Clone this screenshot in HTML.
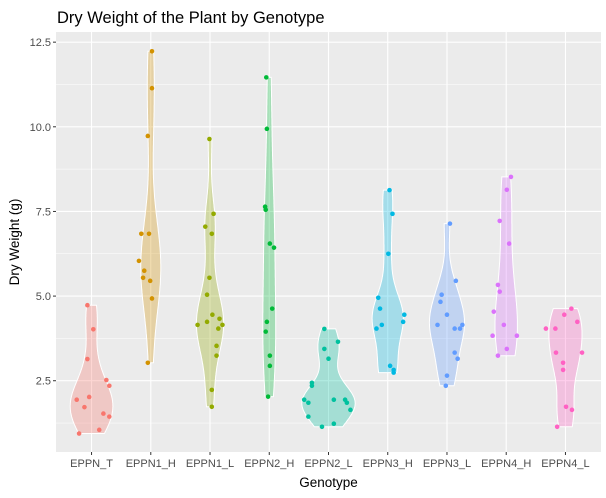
<!DOCTYPE html>
<html><head><meta charset="utf-8"><style>
body{margin:0;background:#fff;font-family:"Liberation Sans",sans-serif}
svg{display:block}
</style></head><body>
<svg id="chart" width="606" height="498" xmlns="http://www.w3.org/2000/svg"></svg>
<script>
const categories=["EPPN_T","EPPN1_H","EPPN1_L","EPPN2_H","EPPN2_L","EPPN3_H","EPPN3_L","EPPN4_H","EPPN4_L"];
const colors=["#F8766D","#D39200","#93AA00","#00BA38","#00C19F","#00B9E3","#619CFF","#DB72FB","#FF61C3"];
const values=[
[4.73,4.02,3.14,2.52,2.35,2.02,1.94,1.72,1.53,1.44,1.05,0.94],
[12.23,11.14,9.73,6.84,6.84,6.04,5.75,5.54,5.45,4.93,3.03],
[9.64,7.43,7.05,6.84,5.54,5.04,4.45,4.33,4.24,4.15,4.15,4.04,3.53,3.24,2.23,1.73],
[11.46,9.94,7.64,7.55,6.55,6.43,4.63,4.24,3.95,3.24,2.94,2.03],
[4.03,3.65,3.44,3.15,2.44,2.35,1.94,1.94,1.94,1.85,1.85,1.64,1.44,1.23,1.14],
[8.13,7.43,6.25,4.95,4.63,4.45,4.24,4.15,4.04,2.94,2.82,2.74],
[7.14,5.45,5.04,4.83,4.45,4.15,4.15,4.04,4.04,3.33,3.15,2.65,2.35],
[8.52,8.14,7.22,6.55,5.33,5.13,4.54,4.15,3.83,3.83,3.44,3.24],
[4.63,4.45,4.24,4.04,4.04,3.33,3.33,3.03,2.82,1.73,1.64,1.14]];
const jitter=[
[-0.07,0.03,-0.07,0.25,0.3,-0.04,-0.25,-0.12,0.2,0.3,0.13,-0.21],
[0.02,0.02,-0.05,-0.16,-0.03,-0.2,-0.11,-0.13,-0.01,0.02,-0.05],
[-0.01,0.06,-0.08,0.03,-0.01,-0.05,0.04,0.16,-0.05,-0.21,0.21,0.14,0.11,0.11,0.03,0.03],
[-0.05,-0.04,-0.07,-0.06,0.01,0.08,0.05,-0.04,-0.06,0.01,0.01,-0.02],
[-0.07,0.16,-0.07,0,-0.28,-0.28,-0.41,0.09,0.28,-0.34,0.31,0.37,-0.34,0.09,-0.11],
[0.03,0.08,0.01,-0.16,-0.13,0.28,0.26,-0.1,-0.19,0.04,0.1,0.1],
[0.05,0.15,-0.09,-0.11,0,-0.16,0.26,0.13,0.22,0.13,0.18,0,-0.02],
[0.08,0.01,-0.11,0.05,-0.14,-0.11,-0.21,-0.04,-0.23,0.18,0.01,-0.14],
[0.1,-0.02,0.2,-0.33,-0.17,-0.16,0.28,-0.04,-0.04,0.01,0.11,-0.14]];
const yTicks=[2.5,5.0,7.5,10.0,12.5];
const yTickLabels=["2.5","5.0","7.5","10.0","12.5"];

const svg=document.getElementById('chart');const NS="http://www.w3.org/2000/svg";
function mk(t,a,p){const e=document.createElementNS(NS,t);for(const k in a)e.setAttribute(k,a[k]);(p||svg).appendChild(e);return e;}
const L=56,R=601,T=32,B=452;
const yMin=0.395,yMax=12.8;
const xs=i=>L+(i+1-0.4)/9.2*(R-L);
const ys=v=>B-(v-yMin)/(yMax-yMin)*(B-T);
const unit=(R-L)/9.2;
const bg=mk('rect',{x:L,y:T,width:R-L,height:B-T,fill:'#EBEBEB'});

const grid=mk('g',{});
for(let i=0;i<yTicks.length+1;i++){const v=1.25+2.5*i;if(v>yMin&&v<yMax)mk('line',{x1:L,x2:R,y1:ys(v),y2:ys(v),stroke:'#fff','stroke-width':0.5},grid);}
yTicks.forEach(v=>mk('line',{x1:L,x2:R,y1:ys(v),y2:ys(v),stroke:'#fff','stroke-width':1.1},grid));
categories.forEach((c,i)=>mk('line',{x1:xs(i),x2:xs(i),y1:T,y2:B,stroke:'#fff','stroke-width':1.1},grid));
// KDE
function quant(s,p){const h=(s.length-1)*p,lo=Math.floor(h);return s[lo]+(h-lo)*((s[lo+1]??s[lo])-s[lo]);}
function bw(a){const n=a.length,m=a.reduce((x,y)=>x+y)/n;const sd=Math.sqrt(a.reduce((x,y)=>x+(y-m)**2,0)/(n-1));const s=[...a].sort((x,y)=>x-y);const iqr=(quant(s,.75)-quant(s,.25))/1.34;return 0.9*Math.min(sd,iqr>0?iqr:sd)*Math.pow(n,-0.2);}
const dens=values.map(a=>{const h=bw(a),lo=Math.min(...a),hi=Math.max(...a),pts=[];for(let k=0;k<=200;k++){const y=lo+(hi-lo)*k/200;let d=0;a.forEach(v=>{d+=Math.exp(-0.5*((y-v)/h)**2);});d/=a.length*h*Math.sqrt(2*Math.PI);pts.push([y,d]);}return pts;});
const dmax=Math.max(...dens.map(p=>Math.max(...p.map(q=>q[1]))));
dens.forEach((p,i)=>{const cx=xs(i);const right=p.map(q=>[cx+q[1]/dmax*0.45*unit,ys(q[0])]);const left=p.slice().reverse().map(q=>[cx-q[1]/dmax*0.45*unit,ys(q[0])]);
const el=mk('polygon',{points:right.concat(left).map(q=>q[0].toFixed(1)+','+q[1].toFixed(1)).join(' '),fill:colors[i],'fill-opacity':0.3,stroke:'#fff','stroke-width':1});
});
values.forEach((a,i)=>{const g=mk('g',{});
a.forEach((v,j)=>{const c=mk('circle',{cx:xs(i)+jitter[i][j]*unit,cy:ys(v),r:2.3,fill:colors[i]},g);});});
// axes
yTicks.forEach((v,k)=>{mk('line',{x1:L-3,x2:L,y1:ys(v),y2:ys(v),stroke:'#333','stroke-width':1});const t=mk('text',{x:L-5,y:ys(v)+4,'text-anchor':'end','font-size':11,fill:'#4D4D4D'});t.textContent=yTickLabels[k];});
categories.forEach((c,i)=>{mk('line',{x1:xs(i),x2:xs(i),y1:B,y2:B+3,stroke:'#333','stroke-width':1});const t=mk('text',{x:xs(i),y:B+15,'text-anchor':'middle','font-size':11,fill:'#4D4D4D'});t.textContent=c;});
const xt=mk('text',{x:(L+R)/2,y:487,'text-anchor':'middle','font-size':13.5,fill:'#000'});xt.textContent="Genotype";
const yt=mk('text',{x:0,y:0,'text-anchor':'middle','font-size':13.5,fill:'#000',transform:`translate(19,${(T+B)/2}) rotate(-90)`});yt.textContent="Dry Weight (g)";
const tt=mk('text',{x:57,y:23,'font-size':16.5,fill:'#000'});tt.textContent="Dry Weight of the Plant by Genotype";
</script>
</body></html>
